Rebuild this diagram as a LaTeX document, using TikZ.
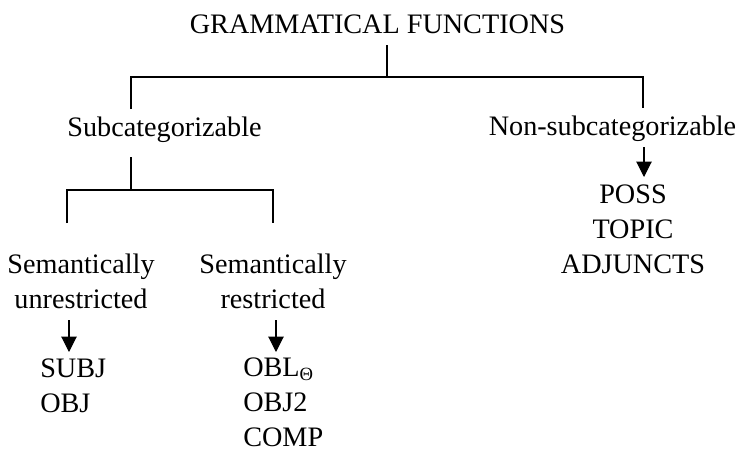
\documentclass[tikz,border=0pt]{standalone}
\usepackage{fontspec}
\setmainfont{Liberation Serif}
\usetikzlibrary{arrows.meta}
\begin{document}
\begin{tikzpicture}[x=0.75pt,y=-0.75pt,
  lbl/.style={inner sep=0pt,font=\fontsize{21.15}{26.25}\selectfont},
  brk/.style={line width=1pt},
  down/.style={line width=0.8pt,-{Triangle[length=11.5pt,width=11.5pt]}}]
\useasboundingbox (0,0) rectangle (740,450);

% labels (multi-line nodes are placed by the baseline of their last line)
\node[lbl,anchor=base] (gf) at (377.5,33) {GRAMMATICAL FUNCTIONS};
\node[lbl,anchor=base] (sub) at (164.5,136) {Subcategorizable};
\node[lbl,anchor=base] (nonsub) at (612.5,135) {Non-subcategorizable};
\node[lbl,anchor=base,align=center] (semu) at (81,308) {Semantically\\unrestricted};
\node[lbl,anchor=base,align=center] (semr) at (273,308) {Semantically\\restricted};
\node[lbl,anchor=base west,align=left] (ulist) at (40,412) {SUBJ\\OBJ};
\node[lbl,anchor=base west,align=left] (rlist) at (243,446)
  {OBL\raisebox{-3pt}{\fontsize{14}{14}\selectfont Θ}\\OBJ2\\COMP};
\node[lbl,anchor=base,align=center] (nlist) at (633,273) {POSS\\TOPIC\\ADJUNCTS};

% top bracket
\coordinate (t0) at (387,45);
\coordinate (t1) at (387,77);
\coordinate (tl) at (131,77);
\coordinate (tr) at (643,77);
\coordinate (tlb) at (131,109);
\coordinate (trb) at (643,108);
\draw[brk] (t0) -- (t1);
\draw[brk] (tlb) -- (tl) -- (tr) -- (trb);

% bracket under Subcategorizable
\coordinate (s0) at (131,157);
\coordinate (s1) at (131,190);
\coordinate (sl) at (67,190);
\coordinate (sr) at (273,190);
\coordinate (slb) at (67,223);
\coordinate (srb) at (273,223);
\draw[brk] (s0) -- (s1);
\draw[brk] (slb) -- (sl) -- (sr) -- (srb);

% arrows to the lists
\coordinate (au0) at (69,320);
\coordinate (au1) at (69,352);
\coordinate (ar0) at (276,320);
\coordinate (ar1) at (276,352);
\coordinate (an0) at (644,147);
\coordinate (an1) at (644,177);
\draw[down] (au0) -- (au1);
\draw[down] (ar0) -- (ar1);
\draw[down] (an0) -- (an1);
\end{tikzpicture}
\end{document}
